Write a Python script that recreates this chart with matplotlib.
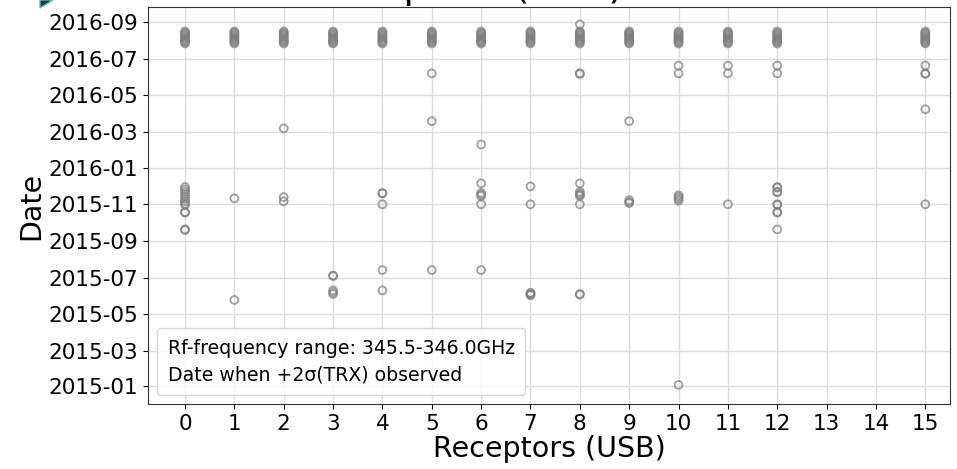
import datetime
import matplotlib
matplotlib.use('Agg')
import matplotlib.pyplot as plt
import matplotlib.dates as mdates
from matplotlib.lines import Line2D
from matplotlib.patches import Polygon

# dates when +2sigma(TRX) was observed, per receptor (USB)
top = ['2016-07-27', '2016-07-29', '2016-07-31', '2016-08-02', '2016-08-04', '2016-08-06',
       '2016-08-08', '2016-08-10', '2016-08-12', '2016-08-14', '2016-08-16']

r0 = top + ['2015-11-30', '2015-11-26', '2015-11-22', '2015-11-18', '2015-11-14', '2015-11-10',
            '2015-11-06', '2015-11-02', '2015-10-31', '2015-10-19', '2015-10-18', '2015-09-20', '2015-09-19']
r1 = top + ['2015-11-11', '2015-05-25']
r2 = top + ['2016-03-07', '2015-11-13', '2015-11-06']
r3 = top + ['2015-07-05', '2015-07-04', '2015-06-10', '2015-06-07', '2015-06-04']
r4 = top + ['2015-11-20', '2015-11-19', '2015-11-01', '2015-07-14', '2015-06-10']
r5 = top + ['2016-06-07', '2016-03-19', '2015-07-14']
r6 = top + ['2016-02-09', '2015-12-06', '2015-11-20', '2015-11-17', '2015-11-15', '2015-11-01', '2015-07-14']
r7 = top + ['2015-12-01', '2015-11-01', '2015-06-06', '2015-06-05', '2015-06-03', '2015-06-02']
r8 = top + ['2016-08-28', '2016-06-07', '2016-06-06', '2015-12-06', '2015-11-22', '2015-11-19',
            '2015-11-17', '2015-11-15', '2015-11-01', '2015-06-04', '2015-06-03']
r9 = top + ['2016-03-19', '2015-11-08', '2015-11-05', '2015-11-03']
r10 = top + ['2016-06-20', '2016-06-07', '2015-11-16', '2015-11-13', '2015-11-10', '2015-11-07', '2015-01-03']
r11 = top + ['2016-06-20', '2016-06-07', '2015-11-01']
r12 = top + ['2016-06-20', '2016-06-07', '2015-11-30', '2015-11-29', '2015-11-22', '2015-11-21',
             '2015-11-01', '2015-10-31', '2015-10-19', '2015-10-18', '2015-09-20']
r15 = top + ['2016-06-20', '2016-06-07', '2016-06-06', '2016-04-08', '2015-11-01']

receptors = [0, 1, 2, 3, 4, 5, 6, 7, 8, 9, 10, 11, 12, 15]
receptor_dates = [r0, r1, r2, r3, r4, r5, r6, r7, r8, r9, r10, r11, r12, r15]
tick_labels = [str(i) for i in range(16)]


def to_dt(s):
    return datetime.datetime.strptime(s, "%Y-%m-%d")


fig = plt.figure(figsize=(9.57, 4.69), dpi=100)
ax = fig.add_axes([148 / 957, 65 / 469, 802 / 957, 397 / 469])

for rec, dates in zip(receptors, receptor_dates):
    ax.scatter([rec] * len(dates), [to_dt(d) for d in dates], s=32, facecolors='none',
               edgecolors='gray', linewidths=1.3, alpha=0.75, zorder=3)

ax.set_xlim(-0.75, 15.5)
ax.set_ylim(to_dt('2014-12-02'), to_dt('2016-09-26'))
ax.set_xticks(range(16))
ax.set_xticklabels(tick_labels)
ax.yaxis.set_major_locator(mdates.MonthLocator(bymonth=[1, 3, 5, 7, 9, 11]))
ax.yaxis.set_major_formatter(mdates.DateFormatter('%Y-%m'))
ax.tick_params(labelsize=15.5)
ax.grid(True, color='#dddddd', linewidth=1)
ax.set_axisbelow(True)
for sp in ax.spines.values():
    sp.set_color('#333333')

ax.set_xlabel('Receptors (USB)', fontsize=20.5, labelpad=1)
ax.set_ylabel('Date', fontsize=20.5, labelpad=2)

blank = Line2D([], [], linestyle='none')
ax.legend([blank, blank], ['Rf-frequency range: 345.5-346.0GHz', 'Date when +2σ(TRX) observed'],
          loc='lower left', fontsize=13.6, handlelength=0, handletextpad=0, labelspacing=0.4,
          borderpad=0.55)

# title of the original figure, mostly cut off at the top edge
fig.text(624 / 957, 1 + 2 / 469, 'Receptors (USB)', ha='right', va='baseline', fontsize=27.7)

# small marker left over in the top-left corner
fig.patches.append(Polygon([(40 / 957, 1.0), (53 / 957, 1.0), (40 / 957, 1 - 8 / 469)], closed=True,
                           transform=fig.transFigure, facecolor='#333333', edgecolor='#4cc4c0',
                           linewidth=1))

plt.savefig('out.png', dpi=100)
plt.close()
